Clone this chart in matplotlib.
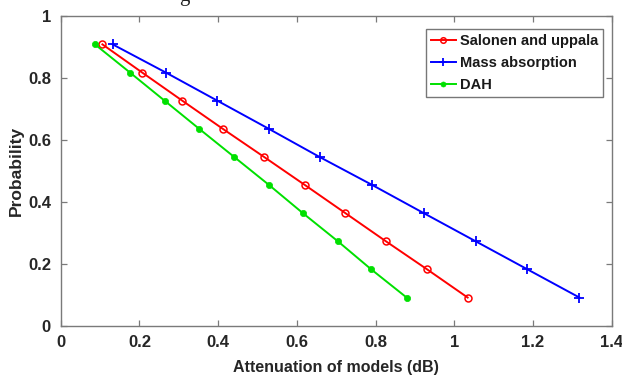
import matplotlib
matplotlib.use("Agg")
import matplotlib.pyplot as plt

plt.rcParams['font.family'] = ['Liberation Sans', 'DejaVu Sans']

probability = [0.909, 0.818, 0.727, 0.636, 0.545, 0.455, 0.364, 0.273, 0.182, 0.091]
salonen_uppala = [0.106, 0.207, 0.309, 0.412, 0.517, 0.620, 0.723, 0.826, 0.931, 1.034]
mass_absorption = [0.132, 0.267, 0.398, 0.529, 0.658, 0.791, 0.922, 1.054, 1.186, 1.318]
dah = [0.087, 0.176, 0.264, 0.352, 0.441, 0.529, 0.615, 0.704, 0.789, 0.879]

x_ticks = [0, 0.2, 0.4, 0.6, 0.8, 1.0, 1.2, 1.4]
x_tick_labels = ['0', '0.2', '0.4', '0.6', '0.8', '1', '1.2', '1.4']
y_ticks = [0, 0.2, 0.4, 0.6, 0.8, 1.0]
y_tick_labels = ['0', '0.2', '0.4', '0.6', '0.8', '1']

fig = plt.figure(figsize=(6.22, 3.78), dpi=100)
ax = fig.add_axes([60.7 / 622, 1 - 325.7 / 378, (611.7 - 60.7) / 622, (325.7 - 16.2) / 378])

ax.plot(salonen_uppala, probability, color='#ff0000', lw=1.4, marker='o',
        markersize=5, markerfacecolor='none', markeredgewidth=1.1,
        label='Salonen and uppala')
ax.plot(mass_absorption, probability, color='#0000ff', lw=1.4, marker='+',
        markersize=7, markeredgewidth=1.3, label='Mass absorption')
ax.plot(dah, probability, color='#00e000', lw=1.4, marker='o',
        markersize=4.5, markeredgewidth=0.5, markerfacecolor='#00e000',
        label='DAH')

ax.set_xlim(0, 1.4)
ax.set_ylim(0, 1)
ax.set_xticks(x_ticks)
ax.set_xticklabels(x_tick_labels)
ax.set_yticks(y_ticks)
ax.set_yticklabels(y_tick_labels)

for s in ax.spines.values():
    s.set_color('#7a7a7a')
    s.set_linewidth(1.0)
ax.tick_params(direction='in', top=True, right=True, length=4, width=0.9,
               color='#7a7a7a', labelsize=12, labelcolor='#262626', pad=7)
for lbl in ax.get_xticklabels() + ax.get_yticklabels():
    lbl.set_fontweight('bold')

ax.set_xlabel('Attenuation of models (dB)', fontsize=11.5, fontweight='bold',
              color='#262626', labelpad=7)
ax.set_ylabel('Probability', fontsize=12.5, fontweight='bold',
              color='#262626', labelpad=3)

leg = ax.legend(loc='upper right', bbox_to_anchor=(0.985, 0.96),
                prop={'weight': 'bold', 'size': 10.5}, frameon=True,
                fancybox=False, borderpad=0.35, handlelength=1.7,
                handletextpad=0.3, labelspacing=0.55, borderaxespad=0,
                markerscale=0.8)
leg.get_frame().set_edgecolor('#555555')
leg.get_frame().set_linewidth(1.0)
for t in leg.get_texts():
    t.set_color('#1a1a1a')

fig.text(184 / 622, 1 - 1 / 378, 'g', family='Liberation Serif', fontsize=15,
         ha='center', va='baseline', color='#222222')

fig.savefig('out.png', dpi=100)
